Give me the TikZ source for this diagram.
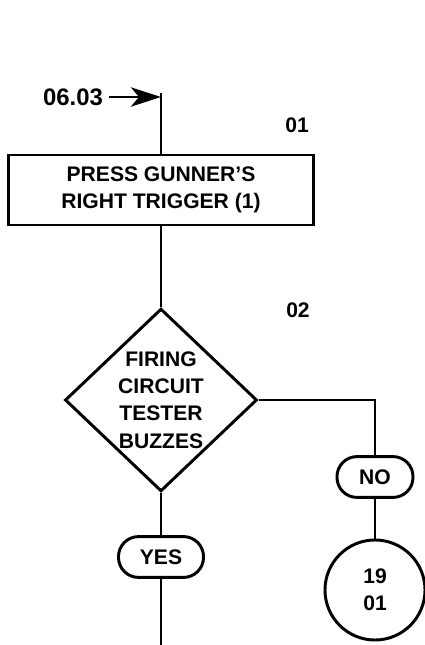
\documentclass[tikz,border=0pt]{standalone}
\usepackage{fontspec}
\setmainfont{Liberation Sans}
\usetikzlibrary{arrows.meta,positioning,shapes.geometric}

\begin{document}
\begin{tikzpicture}[x=0.025cm,y=-0.025cm,line width=2.1pt,
    every node/.style={font=\fontsize{15}{19.5}\selectfont\bfseries,align=center},
    stepbox/.style={draw,rectangle,minimum width=7.625cm,minimum height=1.75cm,inner sep=0pt},
    testbox/.style={draw,diamond,minimum width=4.8cm,minimum height=4.55cm,inner sep=0pt},
    answer/.style={draw,rectangle,rounded corners=0.5cm,minimum height=1.02cm,inner sep=0pt},
    goto/.style={draw,circle,minimum size=2.5cm,inner sep=0pt}]
  \useasboundingbox (0,0) rectangle (425,645);
  % Entry
  \node[font=\fontsize{17}{20}\selectfont\bfseries] (from0603) at (73,97) {06.03};
  \coordinate (entry) at (161,93);
  \coordinate (entryhit) at (161,97);
  \draw[-{Stealth[length=7.5mm,width=4.8mm,inset=2mm]}] (from0603.east) -- (entryhit);
  % Step 01
  \node (num01) at (297,125) {01};
  \node[stepbox] (press) at (161,190) {PRESS GUNNER’S\\RIGHT TRIGGER (1)};
  \draw (entry) -- (press);
  % Step 02
  \node (num02) at (298,310) {02};
  \node[testbox] (buzz) at (161,400) {FIRING\\CIRCUIT\\TESTER\\BUZZES};
  \draw (press) -- (buzz);
  % No branch
  \node[answer,minimum width=1.9cm] (no) at (375,477) {NO};
  \node[goto] (go1901) at (375,590) {19\\01};
  \draw (buzz.east) -| (no.north);
  \draw (no) -- (go1901);
  % Yes branch
  \node[answer,minimum width=2.125cm] (yes) at (161,557) {YES};
  \coordinate (exit) at (161,645);
  \draw (buzz) -- (yes);
  \draw (yes) -- (exit);
\end{tikzpicture}
\end{document}
